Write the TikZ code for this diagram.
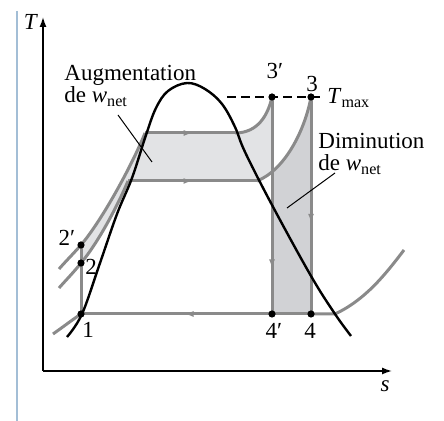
\documentclass[tikz,border=0pt]{standalone}
\usepackage{fontspec}
\setmainfont{Liberation Serif}
\usetikzlibrary{positioning,arrows.meta,decorations.markings}

\definecolor{lineg}{RGB}{138,138,138}
\definecolor{lightf}{RGB}{226,227,229}
\definecolor{darkf}{RGB}{209,210,213}
\definecolor{barblue}{RGB}{163,190,214}

\begin{document}
\begin{tikzpicture}[x=0.5pt,y=-0.5pt,font=\fontsize{11.5}{11}\selectfont]
  \tikzstyle{isobar}=[color=lineg,line width=1.5pt]
  \tikzstyle{midarrow}=[postaction={decorate},decoration={markings,mark=at position #1 with {\arrow{Latex[length=4.5pt,width=3pt]}}}]
  \tikzstyle{state}=[circle,fill=black,inner sep=0pt,minimum size=3.6pt]
  \tikzstyle{ptlabel}=[inner sep=0pt]
  \tikzstyle{leader}=[line width=0.5pt]
  \tikzstyle{axis}=[line width=0.7pt,-{Latex[length=5pt,width=3.5pt]}]
  \useasboundingbox (0,0) rectangle (444,421);

  % state points
  \coordinate (p1) at (81,314);
  \coordinate (p2) at (81,263);
  \coordinate (p2p) at (81,245);
  \coordinate (p3) at (311,97);
  \coordinate (p3p) at (272,97);
  \coordinate (p4) at (311,314);
  \coordinate (p4p) at (272,314);
  \coordinate (o) at (43,371);

  % areas
  \fill[lightf] (p1) -- (p2p) .. controls (103,219) and (133,163) .. (145,133) -- (235,133)
     .. controls (258,133) and (268,115) .. (p3p) -- (p4p) -- cycle;
  \fill[white] (p1) -- (p2) .. controls (98,243) and (118,205) .. (128,181) -- (257,181)
     .. controls (285,170) and (305,130) .. (p3) -- (p4) -- cycle;
  \begin{scope}
    \clip (p4p) rectangle (311,0);
    \fill[darkf] (p1) -- (p2) .. controls (98,243) and (118,205) .. (128,181) -- (257,181)
       .. controls (285,170) and (305,130) .. (p3) -- (p4) -- cycle;
  \end{scope}

  \draw[barblue,line width=1.3pt] (17,11) -- (17,421);

  % axes
  \draw[axis] (o) -- (43,17);
  \draw[axis] (o) -- (392,371);
  \node[ptlabel] (tlab) at (31,22) {\textit{T}};
  \node[ptlabel] (slab) at (385,386) {\textit{s}};

  % low pressure
  \draw[isobar] (53,334) .. controls (63,327) and (72,320) .. (p1);
  \draw[isobar,midarrow=0.55] (p4) -- (p1);
  \draw[isobar] (p4) -- (335,314) .. controls (365,300) and (385,275) .. (404,250);
  % high pressure, cycle 1-2-3-4
  \draw[isobar] (59,288) .. controls (66,280) and (74,272) .. (p2)
     .. controls (98,243) and (118,205) .. (128,181);
  \draw[isobar,midarrow=0.5] (128,181) -- (257,181);
  \draw[isobar] (257,181) .. controls (285,170) and (305,130) .. (p3);
  \draw[isobar,midarrow=0.58] (p3) -- (p4);
  % higher pressure, cycle 1-2'-3'-4'
  \draw[isobar] (59,269) .. controls (66,261) and (74,253) .. (p2p)
     .. controls (103,219) and (133,163) .. (145,133);
  \draw[isobar,midarrow=0.53] (145,133) -- (235,133);
  \draw[isobar] (235,133) .. controls (258,133) and (268,115) .. (p3p);
  \draw[isobar,midarrow=0.79] (p3p) -- (p4p);
  \draw[isobar] (p1) -- (p2p);

  % saturation dome
  \draw[line width=1.2pt] plot[smooth,tension=0.6] coordinates {(67,337) (82,314) (100,263)
     (117,214) (132,178) (146,135) (156,108) (168,91) (187,83) (205,89) (222,104) (235,127)
     (245,152) (272,205) (311,276) (335,314) (351,336)};

  % T max
  \node[anchor=base west,inner sep=0pt] (tmax) at (327,104) {\textit{T}\textsubscript{max}};
  \draw[line width=0.6pt,dash pattern=on 4.5pt off 2.5pt,shorten >=2.5pt] (227,97) -- (tmax.west |- p3);

  \foreach \p in {p1,p2,p2p,p3,p3p,p4,p4p}
    \node[state] (d\p) at (\p) {};

  \node[ptlabel] (l1) at (88,330) {1};
  \node[ptlabel] (l2) at (91,267) {2};
  \node[ptlabel] (l2p) at (67,238) {2′};
  \node[ptlabel] (l3p) at (275,71) {3′};
  \node[ptlabel] (l3) at (312,84) {3};
  \node[ptlabel] (l4p) at (274,331) {4′};
  \node[ptlabel] (l4) at (310,331) {4};

  % labels for the work areas
  \node[anchor=north west,align=left,inner sep=0pt] (aug) at (64,65) {Augmentation\\de \textit{w}\textsubscript{net}};
  \node[anchor=north west,align=left,inner sep=0pt] (dim) at (318,133) {Diminution\\de \textit{w}\textsubscript{net}};
  \coordinate (augA) at (118,115);
  \coordinate (augB) at (152,162);
  \coordinate (dimA) at (335,173);
  \coordinate (dimB) at (287,208);
  \draw[leader] (augA) -- (augB);
  \draw[leader] (dimA) -- (dimB);
\end{tikzpicture}
\end{document}
